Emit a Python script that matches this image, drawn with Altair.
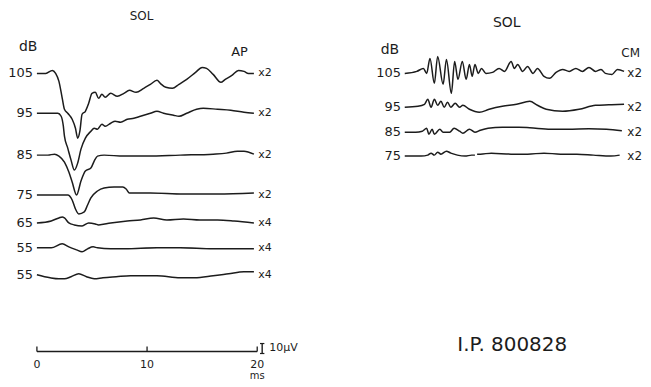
import altair as alt
import pandas as pd

INK = "#1c1c1c"
FONT = "DejaVu Sans"

# ---------------- AP panel (left): click-evoked action potentials ----------------
AP_DB = [105, 95, 85, 75, 65, 55, 55]
AP_GAIN = ["x2", "x2", "x2", "x2", "x4", "x4", "x4"]
AP_OFFSET_UV = [306, 266, 224, 184, 156, 131, 104]   # stacking offsets of the traces

AP105_T = [0.0, 0.8, 1.4, 1.7, 2.0, 2.3, 2.5, 2.8, 3.2, 3.5, 3.7, 3.9, 4.1, 4.4, 4.7, 5.0, 5.3, 5.6,
           5.9, 6.2, 6.7, 7.3, 7.9, 8.4, 9.0, 9.7, 10.3, 10.9, 11.2, 11.7, 12.3, 12.9, 13.6, 14.4,
           15.0, 15.4, 16.0, 16.7, 17.1, 17.7, 18.3, 18.8, 19.2, 19.7]
AP105_UV = [0, 0, 3, 0, -8, -25, -36, -40, -46, -55, -65, -58, -41, -38, -30, -20, -19, -25,
            -21, -24, -20, -23, -20, -17, -19, -15, -11, -7, -10, -14, -15, -11, -6, 1,
            6, 5, -1, -9, -6, -2, 3, 2, 0, 0]

AP95_T = [0.0, 1.3, 1.9, 2.2, 2.4, 2.5, 2.8, 3.1, 3.4, 3.7, 4.0, 4.4, 4.9, 5.2, 5.5, 5.9, 6.2, 6.7,
          7.1, 7.6, 8.2, 8.8, 9.4, 10.3, 10.9, 11.5, 12.4, 12.9, 13.6, 14.5, 15.1, 16.4, 17.6, 18.8, 19.7]
AP95_UV = [0, 0, 0, -3, -13, -23, -35, -47, -57, -50, -36, -25, -18, -15, -16, -11, -13, -10,
           -8, -9, -6, -5, -3, 0, 2, 0, -2, -3, 0, 4, 5, 4, 3, 1, 0]

AP85_T = [0.0, 1.0, 1.6, 2.0, 2.5, 2.9, 3.2, 3.6, 4.0, 4.4, 4.9, 5.2, 5.5, 6.1, 7.9, 10.0, 13.0,
          16.0, 17.2, 18.2, 18.8, 19.7]
AP85_UV = [0, 0, 1, -1, -7, -17, -27, -40, -26, -16, -13, -6, -1, 0, -1, -1, 0, 1, 2, 4, 4, 1]

AP75_T = [0.0, 2.8, 3.2, 3.5, 3.8, 4.3, 4.6, 4.9, 5.5, 6.1, 7.0, 7.8, 8.1, 8.4, 10.3, 13.3, 16.4, 19.7]
AP75_UV = [0, 0, -5, -14, -19, -17, -10, -3, 4, 7, 8, 8, 6, 2, 2, 1, 1, 2]

AP65_T = [0.0, 1.3, 2.0, 2.3, 2.5, 2.9, 3.4, 4.1, 4.7, 5.3, 5.6, 6.7, 8.2, 9.4, 10.6, 11.8, 13.3,
          14.8, 16.4, 17.9, 19.7]
AP65_UV = [0, 2, 5, 6, 5, 0, -2, -3, 0, -1, -2, 0, 2, 3, 5, 3, 4, 3, 3, 2, 0]

AP55A_T = [0.0, 1.3, 2.3, 2.9, 3.6, 4.1, 4.6, 5.1, 5.5, 6.7, 8.0, 10.9, 13.0, 16.0, 19.7]
AP55A_UV = [0, 0, 4, 1, -2, -4, -1, 1, 0, -1, -1, 0, 0, -1, -1]

AP55B_T = [0.0, 1.2, 2.0, 2.5, 3.1, 3.8, 4.5, 5.2, 6.0, 7.2, 8.5, 10.9, 13.0, 14.3, 16.0, 17.4, 18.8, 19.7]
AP55B_UV = [0, -3, -4, -4, -2, 1, -2, -4, -3, -2, -1, -1, -3, -3, -1, 1, 3, 3]

AP_T = [AP105_T, AP95_T, AP85_T, AP75_T, AP65_T, AP55A_T, AP55B_T]
AP_UV = [AP105_UV, AP95_UV, AP85_UV, AP75_UV, AP65_UV, AP55A_UV, AP55B_UV]

# ---------------- CM panel (right): cochlear microphonics ----------------
CM_DB = [105, 95, 85, 75]
CM_GAIN = ["x2", "x2", "x2", "x2"]
CM_OFFSET_UV = [306, 272, 247, 223]

CM105_T = [0.0, 1.1, 1.7, 2.0, 2.3, 2.7, 3.0, 3.5, 3.8, 4.25, 4.55, 4.85, 5.25, 5.6, 5.9, 6.15, 6.4,
           6.7, 7.0, 7.4, 8.0, 8.6, 9.1, 9.7, 10.0, 10.3, 10.75, 11.2, 11.7, 12.1, 12.7, 13.2, 13.8,
           14.4, 15.0, 15.6, 16.2, 16.8, 17.4, 17.9, 18.3, 18.9, 19.4, 20.0]
CM105_UV = [0, 2, 5, 0, 15, -10, 17, -11, 14, -20, 12, -6, 12, -6, 9, -3, 9,
            0, 5, 0, 1, 5, 2, 12, 5, 9, 2, 7, 0, 5, -3, -5, 1,
            4, 2, 5, 2, 6, 2, 4, 0, -1, 4, 2]

CM95_T = [0.0, 1.2, 1.8, 2.1, 2.4, 2.7, 3.0, 3.3, 3.6, 3.9, 4.2, 4.6, 5.0, 5.3, 5.9, 6.8, 7.7, 8.9,
          10.2, 11.4, 12.1, 12.9, 14.4, 15.9, 17.4, 18.6, 20.0]
CM95_UV = [0, 1, 3, 8, 0, 8, 2, 6, 0, 5, 0, 4, 0, 2, -2, -5, -2, 1, 3, 6, 2, -2, -4, -2, 2, 2.5, 3]

CM85_T = [0.0, 1.0, 1.6, 2.0, 2.2, 2.5, 2.7, 3.2, 3.5, 4.1, 4.5, 5.0, 5.3, 5.9, 6.4, 6.9, 7.6, 8.9,
          10.4, 11.4, 13.3, 14.9, 16.8, 18.4, 19.8]
CM85_UV = [0, 0, 1, 4, -2, 3, -2, 3, 0, 0, 4, 1, -1, 3, 0, 2, 4, 5, 5, 4.5, 3, 3, 3.5, 3, 1.5]

CM75_T = [0.0, 1.5, 2.1, 2.4, 2.7, 3.0, 3.3, 3.8, 4.2, 4.8, 5.5, 6.1, 6.4, 6.5, 6.6, 6.9, 7.9, 9.7,
          11.2, 12.7, 14.2, 15.7, 17.2, 18.8, 19.6]
CM75_UV = [0, 0, 1, 3, 1, 4, 2, 5, 3, 1, 0, 1, 1, None, 2, 2, 3, 2,
           2, 3, 2, 2, 1, 0, 1]

CM_T = [CM105_T, CM95_T, CM85_T, CM75_T]
CM_UV = [CM105_UV, CM95_UV, CM85_UV, CM75_UV]

# ---------------- scales of the figure ----------------
TIME_TICKS_MS = [0, 10, 20]
TIME_TICK_LABELS = ["0", "10", "20"]
SCALE_BAR_UV = 10

H = 370
W_L, W_R = 322, 313
PX_MS_L, ORIGIN_L = 11.05, 28   # px per ms, px of t = 0 inside the panel
PX_MS_R, ORIGIN_R = 11.0, 75
LW = 1.5


def traces_frame(ts, vs, offsets):
    rows = []
    for i, (t, v) in enumerate(zip(ts, vs)):
        seg = 0
        for tt, vv in zip(t, v):
            if vv is None:
                seg += 1
                continue
            rows.append({"key": f"{i}-{seg}", "t": tt, "y": offsets[i] + vv})
    return pd.DataFrame(rows)


def yscale():
    return alt.Scale(domain=[0, H], nice=False, zero=False)


def xscale(px_ms, origin, width):
    return alt.Scale(domain=[-origin / px_ms, (width - origin) / px_ms], nice=False, zero=False)


def text_layer(df, xs, **kw):
    return alt.Chart(df).mark_text(font=FONT, color=INK, **kw).encode(
        x=alt.X("t:Q", scale=xs, axis=None),
        y=alt.Y("y:Q", scale=yscale(), axis=None),
        text="label:N",
        size=alt.Size("fs:Q", scale=None, legend=None),
    )


# ---------------- left panel ----------------
XL = xscale(PX_MS_L, ORIGIN_L, W_L)
ap_df = traces_frame(AP_T, AP_UV, AP_OFFSET_UV)
ap_lines = alt.Chart(ap_df).mark_line(color=INK, strokeWidth=LW, interpolate="monotone",
                                      strokeJoin="round").encode(
    x=alt.X("t:Q", scale=XL, axis=None),
    y=alt.Y("y:Q", scale=yscale(), axis=None),
    detail="key:N",
)
ap_db = pd.DataFrame({"t": -0.35, "y": AP_OFFSET_UV, "label": [str(d) for d in AP_DB], "fs": 13})
ap_gain = pd.DataFrame({"t": 20.1, "y": AP_OFFSET_UV, "label": AP_GAIN, "fs": 11})
ap_titles = pd.DataFrame({
    "t": [9.5, -0.8, 18.4],
    "y": [364, 332, 327],
    "label": ["SOL", "dB", "AP"],
    "fs": [12, 14, 13],
})

bar_y = 27
bar_df = pd.DataFrame({"t": [TIME_TICKS_MS[0]], "t2": [TIME_TICKS_MS[-1]], "y": [bar_y]})
time_bar = alt.Chart(bar_df).mark_rule(color=INK, strokeWidth=1.3).encode(
    x=alt.X("t:Q", scale=XL, axis=None), x2="t2:Q", y=alt.Y("y:Q", scale=yscale(), axis=None))
ticks_df = pd.DataFrame({"t": TIME_TICKS_MS, "y": bar_y, "y2": bar_y + 5})
time_ticks = alt.Chart(ticks_df).mark_rule(color=INK, strokeWidth=1.3).encode(
    x=alt.X("t:Q", scale=XL, axis=None), y=alt.Y("y:Q", scale=yscale(), axis=None), y2="y2:Q")
tick_lab = pd.DataFrame({"t": TIME_TICKS_MS, "y": 13, "label": TIME_TICK_LABELS, "fs": 11})
ms_lab = pd.DataFrame({"t": [TIME_TICKS_MS[-1]], "y": [2], "label": ["ms"], "fs": [10]})

uv_x = 20.45
uv_df = pd.DataFrame({"t": [uv_x], "y": [25], "y2": [25 + SCALE_BAR_UV]})
uv_bar = alt.Chart(uv_df).mark_rule(color=INK, strokeWidth=1.4).encode(
    x=alt.X("t:Q", scale=XL, axis=None), y=alt.Y("y:Q", scale=yscale(), axis=None), y2="y2:Q")
caps_df = pd.DataFrame({"t": [uv_x - 0.2, uv_x - 0.2], "t2": [uv_x + 0.2, uv_x + 0.2],
                        "y": [25, 25 + SCALE_BAR_UV]})
uv_caps = alt.Chart(caps_df).mark_rule(color=INK, strokeWidth=1.2).encode(
    x=alt.X("t:Q", scale=XL, axis=None), x2="t2:Q", y=alt.Y("y:Q", scale=yscale(), axis=None))
uv_lab = pd.DataFrame({"t": [21.1], "y": [31], "label": [f"{SCALE_BAR_UV}μV"], "fs": [11]})

left = alt.layer(
    ap_lines,
    text_layer(ap_db, XL, align="right", baseline="middle"),
    text_layer(ap_gain, XL, align="left", baseline="middle"),
    text_layer(ap_titles, XL, align="center", baseline="middle"),
    time_bar, time_ticks, uv_bar, uv_caps,
    text_layer(tick_lab, XL, align="center", baseline="middle"),
    text_layer(ms_lab, XL, align="center", baseline="middle"),
    text_layer(uv_lab, XL, align="left", baseline="middle"),
).properties(width=W_L, height=H)

# ---------------- right panel ----------------
XR = xscale(PX_MS_R, ORIGIN_R, W_R)
cm_df = traces_frame(CM_T, CM_UV, CM_OFFSET_UV)
cm_lines = alt.Chart(cm_df).mark_line(color=INK, strokeWidth=LW, interpolate="monotone",
                                      strokeJoin="round").encode(
    x=alt.X("t:Q", scale=XR, axis=None),
    y=alt.Y("y:Q", scale=yscale(), axis=None),
    detail="key:N",
)
cm_db = pd.DataFrame({"t": -0.35, "y": CM_OFFSET_UV, "label": [str(d) for d in CM_DB], "fs": 13})
cm_gain = pd.DataFrame({"t": 20.3, "y": CM_OFFSET_UV, "label": CM_GAIN, "fs": 12})
cm_titles = pd.DataFrame({
    "t": [9.3, -1.35, 20.6, 9.8],
    "y": [357, 329, 326, 34],
    "label": ["SOL", "dB", "CM", "I.P. 800828"],
    "fs": [14, 14, 12, 20],
})

right = alt.layer(
    cm_lines,
    text_layer(cm_db, XR, align="right", baseline="middle"),
    text_layer(cm_gain, XR, align="left", baseline="middle"),
    text_layer(cm_titles, XR, align="center", baseline="middle"),
).properties(width=W_R, height=H)

chart = alt.hconcat(left, right, spacing=0).properties(
    padding=0, background="white"
).configure_view(strokeWidth=0)

chart.save("out.html", embed_options={"renderer": "svg", "actions": False})
